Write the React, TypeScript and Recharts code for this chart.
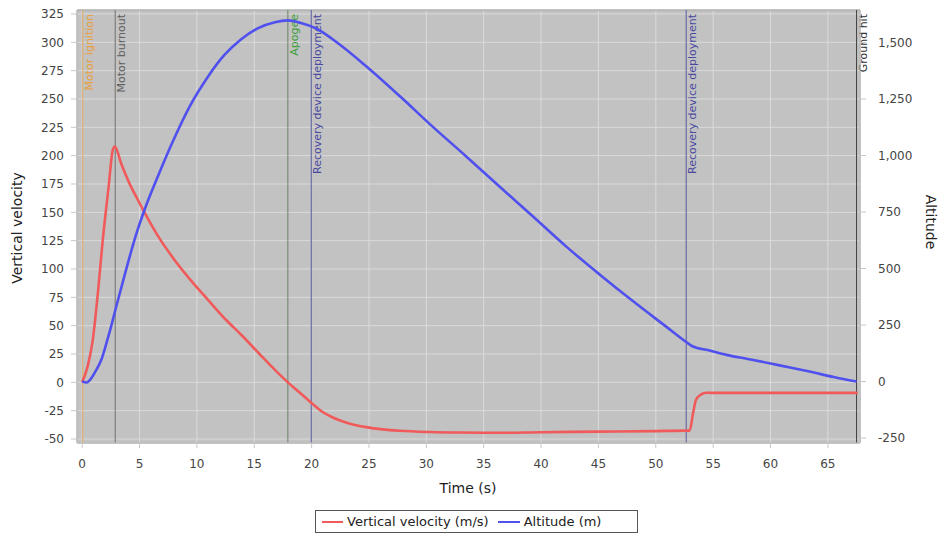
import React from "react";
import {
  ComposedChart,
  Line,
  XAxis,
  YAxis,
  CartesianGrid,
  ReferenceLine,
  ReferenceArea,
} from "recharts";

// vertical velocity (m/s)
const velocityTime = [
  0, 0.5, 0.92, 1.4, 1.8, 2.3, 2.67, 2.85, 3.4, 4.1, 4.8, 5.43, 6.74, 8.05, 9.64, 10.95,
  12.55, 13.86, 15.46, 16.8, 17.93, 18.9, 19.97, 20.8, 21.85, 23.2, 24.76, 26.2,
  27.66, 30.3, 33, 36, 40, 45, 50, 52.6, 52.95, 53.24, 53.5, 53.9, 54.4, 56, 60, 64, 67.6,
];
const velocityValues = [
  0, 15, 37, 82, 126, 172, 205, 208, 193, 176, 162, 150, 127, 108, 88, 73,
  55, 42, 25, 11, 0, -8.5, -18, -25, -31, -36, -39.5, -41.5,
  -42.7, -43.8, -44.3, -44.5, -44, -43.5, -43, -42.6, -42.6, -27.6, -15.6, -11, -9.2, -9.3, -9.3, -9.3, -9.3,
];

// altitude (m)
const altitudeTime = [
  0, 0.4, 0.8, 1.22, 1.66, 2.09, 2.53, 2.96, 3.83, 4.7, 5.43, 6.74, 7.9, 9.4, 10.95, 12.4,
  13.86, 15.3, 16.8, 17.93, 19, 20.4, 22.5, 24.76, 27.7, 30.57, 33.5, 36.4, 39.3, 42.2,
  45.1, 48, 50.9, 52.65, 53.24, 54.6, 56.15, 58, 59.9, 61.6, 63.4, 65.5, 67.5,
];
const altitudeValues = [
  0, -4, 15, 50, 95, 165, 245, 330, 495, 650, 759, 925, 1062, 1220, 1348, 1445,
  1515, 1563, 1590, 1598, 1588, 1562, 1489, 1395, 1262, 1127, 995, 862, 730, 597,
  474, 356, 243, 175, 155, 138, 118, 100, 81, 63, 44, 20, 0,
];

// flight events
const eventTimes = [0.05, 2.88, 17.93, 19.97, 52.65, 67.5];
const eventNames = [
  "Motor ignition",
  "Motor burnout",
  "Apogee",
  "Recovery device deployment",
  "Recovery device deployment",
  "Ground hit",
];
const eventColors = ["#e8a040", "#606060", "#3ca03c", "#4848a0", "#4848a0", "#303030"];
const eventLineColors = ["#e0a860", "#707070", "#6a806a", "#5858a0", "#5858a0", "#404040"];

const timeTicks = [0, 5, 10, 15, 20, 25, 30, 35, 40, 45, 50, 55, 60, 65];
const velocityTicks = [-50, -25, 0, 25, 50, 75, 100, 125, 150, 175, 200, 225, 250, 275, 300, 325];
const altitudeTicks = [-250, 0, 250, 500, 750, 1000, 1250, 1500];

const velocityData = velocityTime.map((t, i) => ({ t, v: velocityValues[i] }));
const altitudeData = altitudeTime.map((t, i) => ({ t, a: altitudeValues[i] }));

const FONT = "DejaVu Sans";
const X_DOMAIN = [-0.45, 67.8];
const V_DOMAIN = [-53.5, 328.5];
const A_DOMAIN = [-272, 1644];

function EventLabel({ viewBox, text, color }: any) {
  if (!viewBox) return null;
  const px = viewBox.x + 10;
  const py = viewBox.y + 4;
  return (
    <text
      x={px}
      y={py}
      transform={`rotate(-90 ${px} ${py})`}
      textAnchor="end"
      fill={color}
      fontSize={11}
      fontFamily={FONT}
    >
      {text}
    </text>
  );
}

export default function App() {
  return (
    <div style={{ position: "absolute", left: 0, top: 0, width: 940, height: 542, background: "#fff", fontFamily: FONT }}>
      <ComposedChart width={940} height={542} margin={{ top: 10, right: 0, bottom: 0, left: 0 }}>
        <CartesianGrid yAxisId="v" fill="#c2c2c2" stroke="#dadada" strokeWidth={1} />
        <XAxis
          dataKey="t"
          type="number"
          domain={X_DOMAIN}
          ticks={timeTicks}
          allowDataOverflow
          height={99}
          stroke="#c8c8c8"
          tickSize={5}
          tickMargin={11}
          tick={{ fill: "#444", fontSize: 12, fontFamily: FONT }}
          label={(p: any) => (
            <text x={468} y={493} textAnchor="middle" fontSize={14} fill="#222" fontFamily={FONT}>
              Time (s)
            </text>
          )}
        />
        <YAxis
          yAxisId="v"
          orientation="left"
          type="number"
          domain={V_DOMAIN}
          ticks={velocityTicks}
          allowDataOverflow
          width={77}
          stroke="#c8c8c8"
          tickSize={6}
          tickMargin={7}
          tick={{ fill: "#444", fontSize: 12, fontFamily: FONT }}
          label={(p: any) => (
            <text x={22} y={228} transform="rotate(-90 22 228)" textAnchor="middle" fontSize={14} fill="#222" fontFamily={FONT}>
              Vertical velocity
            </text>
          )}
        />
        <YAxis
          yAxisId="a"
          orientation="right"
          type="number"
          domain={A_DOMAIN}
          ticks={altitudeTicks}
          allowDataOverflow
          width={80}
          stroke="#c8c8c8"
          tickSize={6}
          tickMargin={12}
          tickFormatter={(v: number) => v.toLocaleString("en-US")}
          tick={{ fill: "#444", fontSize: 12, fontFamily: FONT }}
          label={(p: any) => (
            <text x={926} y={222} transform="rotate(90 926 222)" textAnchor="middle" fontSize={14} fill="#222" fontFamily={FONT}>
              Altitude
            </text>
          )}
        />
        <ReferenceArea
          yAxisId="v"
          x1={X_DOMAIN[0]}
          x2={X_DOMAIN[1]}
          y1={V_DOMAIN[0]}
          y2={V_DOMAIN[1]}
          fill="none"
          stroke="#9a9a9a"
          ifOverflow="extendDomain"
        />
        {eventTimes.map((t, i) => (
          <ReferenceLine
            key={i}
            yAxisId="v"
            x={t}
            stroke={eventLineColors[i]}
            strokeWidth={1}
            label={(p: any) => <EventLabel {...p} text={eventNames[i]} color={eventColors[i]} />}
          />
        ))}
        <Line
          yAxisId="v"
          data={velocityData}
          dataKey="v"
          type="monotone"
          stroke="#f05a5a"
          strokeWidth={2.6}
          dot={false}
          isAnimationActive={false}
          name="Vertical velocity (m/s)"
        />
        <Line
          yAxisId="a"
          data={altitudeData}
          dataKey="a"
          type="monotone"
          stroke="#5050ee"
          strokeWidth={2.6}
          dot={false}
          isAnimationActive={false}
          name="Altitude (m)"
        />
      </ComposedChart>
      <div
        style={{
          position: "absolute",
          left: 315,
          top: 510,
          width: 321,
          height: 21,
          border: "1px solid #555",
          display: "flex",
          alignItems: "center",
          fontSize: 13,
          color: "#222",
          whiteSpace: "nowrap",
        }}
      >
        <span style={{ display: "inline-block", width: 21, height: 2, background: "#f05a5a", marginLeft: 6, marginRight: 4 }} />
        <span>Vertical velocity (m/s)</span>
        <span style={{ display: "inline-block", width: 22, height: 2, background: "#5050ee", marginLeft: 9, marginRight: 4 }} />
        <span>Altitude (m)</span>
      </div>
    </div>
  );
}
